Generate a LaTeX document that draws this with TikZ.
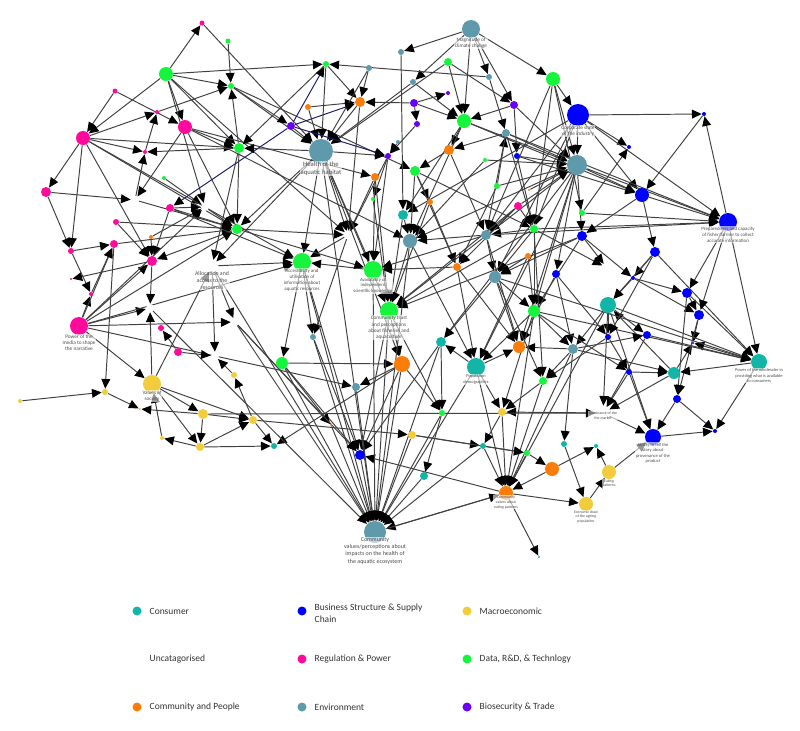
\documentclass[tikz,border=0pt]{standalone}
\usepackage{fontspec}
\setmainfont{Carlito}
\usetikzlibrary{positioning,arrows.meta}
\definecolor{CatConsumer}{HTML}{13B5A7}
\definecolor{CatBusiness}{HTML}{0000FF}
\definecolor{CatMacro}{HTML}{F3CC3C}
\definecolor{CatRegulation}{HTML}{FF0A9C}
\definecolor{CatData}{HTML}{14F53C}
\definecolor{CatCommunity}{HTML}{FA7D0A}
\definecolor{CatEnvironment}{HTML}{5E9AAB}
\definecolor{CatBio}{HTML}{6A00F5}
\definecolor{NavyLine}{HTML}{1B1B6B}
\pgfdeclarelayer{links}
\pgfsetlayers{links,main}

\begin{document}
\begin{tikzpicture}[x=0.2mm,y=-0.2mm,
    nd/.style={circle,inner sep=0pt,minimum size=#1*0.4mm},
    cons/.style={nd=#1,fill=CatConsumer},
    bus/.style={nd=#1,fill=CatBusiness},
    mac/.style={nd=#1,fill=CatMacro},
    reg/.style={nd=#1,fill=CatRegulation},
    dat/.style={nd=#1,fill=CatData},
    com/.style={nd=#1,fill=CatCommunity},
    env/.style={nd=#1,fill=CatEnvironment},
    bio/.style={nd=#1,fill=CatBio},
    unc/.style={nd=#1,fill=white},
    lbl/.style={font=\fontsize{#1}{\fpeval{#1*1.2}}\selectfont,text=black!70,align=center,
      fill=white,fill opacity=0.6,text opacity=1,inner sep=0.4pt},
    link/.style={draw=black!75,line width=0.55pt,-{Triangle[length=5.5pt,width=5pt,black]}},
    navy/.style={link,draw=NavyLine},
    legtxt/.style={font=\fontsize{5.4}{6.6}\selectfont,text=black!80,align=left,inner sep=0pt},
  ]
  \useasboundingbox (0,0) rectangle (800,731);

  % environment
  \node[env=9,label={[lbl=3,label distance=-1pt]below:{Magnitude of\\climate change}}] (eClim) at (471,29) {};
  \node[env=3] (eA) at (401,52) {};
  \node[env=3] (eB) at (369,68) {};
  \node[env=3] (eC) at (413,82) {};
  \node[env=3] (eD) at (489,77) {};
  \node[env=4] (eE) at (506,133) {};
  \node[env=12,label={[lbl=3.8,label distance=-1.5pt]below:{Health of the\\aquatic habitat}}] (eHealth) at (321,151) {};
  \node[env=2] (eF) at (398,142) {};
  \node[env=10] (eG) at (577,165) {};
  \node[env=5] (eI) at (486,235) {};
  \node[env=7] (eH) at (410,241) {};
  \node[env=6] (eJ) at (495,277) {};
  \node[env=3] (eK) at (313,337) {};
  \node[env=5] (eL) at (573,349) {};
  \node[env=4] (eM) at (356,387) {};
  \node[env=11,label={[lbl=3.4,label distance=-4pt]below:{Community\\values/perceptions about\\impacts on the health of\\the aquatic ecosystem}}] (eComm) at (375,532) {};

  % data, R&D and technology
  \node[dat=2.5] (dA) at (228,41) {};
  \node[dat=7] (dB) at (166,74) {};
  \node[dat=3] (dC) at (231,86) {};
  \node[dat=3] (dD) at (326,64) {};
  \node[dat=4] (dE) at (448,62) {};
  \node[dat=7] (dF) at (553,79) {};
  \node[dat=7] (dH) at (464,121) {};
  \node[dat=5] (dG) at (239,148) {};
  \node[dat=2] (dJ) at (485,160) {};
  \node[dat=5] (dK) at (415,171) {};
  \node[dat=2] (dI) at (164,178) {};
  \node[dat=3] (dL) at (497,186) {};
  \node[dat=2] (dM) at (373,199) {};
  \node[dat=3] (dP) at (582,213) {};
  \node[dat=5] (dN) at (237,229) {};
  \node[dat=4] (dO) at (534,229) {};
  \node[dat=9,label={[lbl=2.8,label distance=-2pt]below:{Accessibility and\\utilisation of\\information about\\aquatic resources}}] (dAcc) at (302,262) {};
  \node[dat=9,label={[lbl=2.7,label distance=-1.5pt]below:{Availability of\\independent\\scientific knowledge}}] (dAvail) at (373,270) {};
  \node[dat=9,label={[lbl=3,label distance=-3pt]below:{Community trust\\and perceptions\\about fisheries and\\aquaculture}}] (dComm) at (389,311) {};
  \node[dat=6] (dQ) at (534,311) {};
  \node[dat=6] (dR) at (282,363) {};
  \node[dat=4] (dS) at (543,381) {};
  \node[dat=3] (dT) at (442,413) {};
  \node[dat=3] (dU) at (527,453) {};

  % regulation and power
  \node[reg=2.5] (rA) at (202,23) {};
  \node[reg=2.5] (rB) at (115,91) {};
  \node[reg=2] (rC) at (157,112) {};
  \node[reg=7] (rD) at (185,127) {};
  \node[reg=7] (rE) at (83,138) {};
  \node[reg=2] (rF) at (145,152) {};
  \node[reg=5] (rG) at (46,192) {};
  \node[reg=4] (rH) at (170,208) {};
  \node[reg=4] (rQ) at (518,206) {};
  \node[reg=3] (rI) at (116,222) {};
  \node[reg=4] (rJ) at (114,244) {};
  \node[reg=3] (rK) at (71,251) {};
  \node[reg=5] (rL) at (152,261) {};
  \node[reg=1.2] (rM) at (71,279) {};
  \node[reg=2] (rN) at (91,294) {};
  \node[reg=9,label={[lbl=3,label distance=-1pt]below:{Power of the\\media to shape\\the narrative}}] (rMedia) at (79,326) {};
  \node[reg=3] (rO) at (161,328) {};
  \node[reg=4] (rP) at (178,352) {};

  % community and people
  \node[com=5] (pA) at (360,102) {};
  \node[com=3] (pB) at (308,107) {};
  \node[com=5] (pC) at (449,150) {};
  \node[com=4] (pD) at (375,177) {};
  \node[com=1.2] (pE) at (529,190) {};
  \node[com=3] (pG) at (430,202) {};
  \node[com=2] (pF) at (151,237) {};
  \node[com=3] (pI) at (528,256) {};
  \node[com=4] (pH) at (457,267) {};
  \node[com=6] (pJ) at (519,347) {};
  \node[com=8] (pK) at (402,364) {};
  \node[com=1.2] (pL) at (331,425) {};
  \node[com=7] (pM) at (552,469) {};
  \node[com=7,label={[lbl=2.2,label distance=-3pt]below:{Community\\values about\\eating patterns}}] (pEat) at (506,493) {};

  % biosecurity and trade
  \node[bio=2] (sA) at (448,93) {};
  \node[bio=4] (sB) at (414,103) {};
  \node[bio=4] (sC) at (514,105) {};
  \node[bio=3] (sD) at (417,124) {};
  \node[bio=4] (sE) at (291,126) {};
  \node[bio=3] (sF) at (388,156) {};

  % business structure and supply chain
  \node[bus=11,label={[lbl=3,label distance=-1pt]below:{Corporate state\\of the industry}}] (bCorp) at (578,115) {};
  \node[bus=2] (bA) at (704,114) {};
  \node[bus=2] (bB) at (629,147) {};
  \node[bus=3] (bC) at (517,156) {};
  \node[bus=7] (bD) at (642,195) {};
  \node[bus=9,label={[lbl=2.8,label distance=-3pt]below:{Preparedness and capacity\\of fisher/farmer to collect\\accurate information}}] (bWill) at (728,222) {};
  \node[bus=5] (bE) at (582,236) {};
  \node[bus=5] (bF) at (655,252) {};
  \node[bus=4] (bG) at (556,274) {};
  \node[bus=2] (bH) at (633,278) {};
  \node[bus=5] (bI) at (687,293) {};
  \node[bus=5] (bJ) at (699,315) {};
  \node[bus=4] (bL) at (647,335) {};
  \node[bus=3] (bK) at (608,337) {};
  \node[bus=1.2] (bM) at (693,343) {};
  \node[bus=3] (bN) at (629,372) {};
  \node[bus=4] (bO) at (677,399) {};
  \node[bus=2] (bP) at (715,431) {};
  \node[bus=8,label={[lbl=2.6,label distance=-2pt]below:{Ability to tell the\\story about\\provenance of the\\product}}] (bProv) at (653,437) {};
  \node[bus=5] (bQ) at (360,455) {};

  % consumer
  \node[cons=5] (cA) at (403,215) {};
  \node[cons=8] (cB) at (608,305) {};
  \node[cons=5] (cC) at (441,342) {};
  \node[cons=9,label={[lbl=2.5,label distance=-1.5pt]below:{Population\\demographics}}] (cPop) at (476,367) {};
  \node[cons=8,label={[lbl=2.5,label distance=-1.5pt]below:{Power of the wholesaler in\\providing what is available\\to consumers}}] (cWhole) at (759,362) {};
  \node[cons=6] (cD) at (674,373) {};
  \node[cons=3] (cE) at (274,446) {};
  \node[cons=3] (cG) at (564,444) {};
  \node[cons=2] (cH) at (596,446) {};
  \node[cons=3] (cF) at (483,446) {};
  \node[cons=4] (cI) at (424,476) {};
  \node[cons=1.2] (cJ) at (539,557) {};

  % macroeconomic
  \node[mac=2] (mA) at (20,401) {};
  \node[mac=3] (mB) at (105,392) {};
  \node[mac=9,label={[lbl=2.9,label distance=-2pt]below:{Values of\\society}}] (mVal) at (152,384) {};
  \node[mac=1.2] (mC) at (140,409) {};
  \node[mac=3] (mH) at (234,375) {};
  \node[mac=5] (mD) at (203,414) {};
  \node[mac=4] (mG) at (253,420) {};
  \node[mac=2] (mE) at (162,438) {};
  \node[mac=4] (mF) at (200,447) {};
  \node[mac=4] (mI) at (412,435) {};
  \node[mac=4] (mJ) at (502,412) {};
  \node[mac=7,label={[lbl=2.2,label distance=-0.5pt]below:{Eating\\patterns}}] (mEatP) at (609,472) {};
  \node[mac=7,label={[lbl=2.2,label distance=-1pt]below:{Economic draw\\of the ageing\\population}}] (mAge) at (586,504) {};

  % uncatagorised
  \node[unc=4] (uA) at (135,200) {};
  \node[unc=4] (uB) at (205,207) {};
  \node[unc=4] (uC) at (348,235) {};
  \node[unc=6,label={[lbl=3.3,label distance=-1pt]below:{Allocation and\\access to the\\resources}}] (uAlloc) at (212,266) {};
  \node[unc=4] (uD) at (150,308) {};
  \node[unc=4] (uE) at (235,322) {};
  \node[unc=4] (uF) at (215,356) {};
  \node[unc=5] (uG) at (607,268) {};
  \node[unc=7,label={[lbl=2.2,label distance=-5.5pt]below:{Dominance of the\\the market}}] (uDom) at (603,413) {};

  \begin{pgfonlayer}{links}
    % top left cluster
    \foreach \a/\b in {dB/rA, rA/eHealth, dA/dC, dB/dC, dB/rE, dB/dD, dB/rD, dB/uB, rB/rD, rB/rE,
        rE/rC, rC/dC, rF/rC, rE/rF, rE/dG, rD/dG, dG/rF, rE/rG, uA/rF, dG/dC, dI/uB, rE/rK,
        rG/rK, rD/dN, rE/rL, dC/eHealth, dC/sE, rD/uA, rG/uA, dB/dG, dB/uC, rD/pD, dC/dK,
        dG/uAlloc, rD/eH, rE/dAcc}
      \draw[link] (\a) -- (\b);
    % top centre
    \foreach \a/\b in {eClim/eA, eClim/eC, eClim/eD, eClim/dF, eClim/dH, eClim/sC, eD/dD,
        sE/eHealth, pB/eHealth, dD/pA, eB/pA, sB/pA, dD/eHealth, pA/eHealth, pA/uC, sB/sD,
        sB/sA, sB/dH, eC/dH, dE/dH, sC/dH, dH/pC, eE/pC, dL/eE, dE/eHealth, eC/eHealth,
        eA/cA, eF/sF, sD/sF, pC/dK, dK/pG, pG/pH, dK/pH, pD/uC, sF/uC, sF/dM, dE/sC, eD/eE,
        pB/pA, eB/eHealth, dD/dG, eHealth/pK, eHealth/dComm, sF/dAvail, pD/dComm, dK/dO,
        pC/eI, dH/eH, dH/cA, eE/eI, eE/dO, sC/bC, dJ/eH, dL/pH}
      \draw[link] (\a) -- (\b);
    \foreach \a/\b in {sE/dD, sE/pA, sE/sF, sE/rH}
      \draw[navy] (\a) -- (\b);
    % right side
    \foreach \a/\b in {bCorp/bA, bCorp/bB, bA/bD, bWill/bA, bCorp/eG, bCorp/bD, eG/bD,
        bCorp/bWill, eG/bWill, bD/bWill, dP/bB, dF/bCorp, dF/eG, dF/dO, eE/eG, dH/eG, sC/eG,
        bC/eG, dJ/eG, dL/eG, bD/bF, bF/cWhole, bWill/cWhole, bH/bI, bE/bH, bF/bH, bI/bJ,
        bH/bJ, bJ/bM, cWhole/bM, cD/bM, cWhole/bP, bO/bP, bProv/bP, bJ/bO, bI/bO, bO/bProv,
        uDom/bProv, cB/bProv, mEatP/bProv, bE/uG, dO/uG, bH/cB, bF/cB, cD/cB, cB/cWhole,
        bI/cWhole, bL/cWhole, eJ/cWhole, dQ/cWhole, cB/bL, eL/bL, bG/eL, cB/eL, dQ/eL, bE/dQ,
        dO/dQ, bN/cD, eL/cD, cB/bK, bG/bK, cB/uDom, bN/uDom, bL/uDom, cD/uDom, eL/cG,
        mEatP/cH, pM/cH, dU/pM, mAge/mEatP, cG/mAge, pEat/mAge, pEat/cJ, eI/eJ, pI/eJ, dO/eJ,
        dO/eI, dO/bWill, eI/bWill, eG/eH, eG/pJ, eG/cPop, eG/dComm, bE/dComm, dO/dComm,
        bCorp/eI, bCorp/dO, bCorp/cA, dP/bWill, eG/bE, eG/bG, bD/bE, bF/bK, bWill/bI,
        bWill/bJ, cWhole/cD, dQ/bN, bK/bN, bN/bProv, rQ/eG, rQ/dO, pE/eG, bC/bD, dF/dP,
        eE/bWill, dH/bD, bC/dO, rQ/eI, rQ/pH, dF/eI, bCorp/eJ, eG/dQ, eG/cC, bE/eJ, bG/pJ}
      \draw[link] (\a) -- (\b);
    % centre
    \foreach \a/\b in {cA/eH, eI/eH, eI/dAvail, eH/dComm, pG/dComm, cA/dComm, dComm/pK,
        dComm/dT, dR/pK, pK/eM, dAcc/eK, dAcc/dR, dAvail/dAcc, uAlloc/dAcc, eHealth/dAcc,
        eHealth/uC, eHealth/dAvail, eHealth/sF, eHealth/dN, eHealth/uAlloc, eHealth/dG,
        uC/dAcc, uC/eK, pH/dAvail, dM/dComm, pD/dAvail, dR/bQ, eK/bQ, pK/bQ, dAcc/bQ,
        dComm/bQ, cC/bQ, pEat/bQ, cPop/cC, cPop/pJ, eL/pJ, eJ/pJ, eL/dS, bK/dS, cPop/mJ,
        dS/mJ, uDom/mJ, mJ/pEat, cPop/pEat, dU/pEat, pM/pEat, cF/pEat, dS/pEat, dQ/pEat,
        eL/pEat, cB/pEat, mJ/cF, mI/cF, cF/dU, mI/dU, dT/cI, pK/dT, cC/dT, pK/cE, eH/cPop,
        pH/cPop, pI/dQ, eJ/dS, eJ/dQ, dQ/mJ, pH/pJ, rQ/dComm, dK/eH, uE/pL, dR/pL, dO/dS,
        eI/pJ, pI/cPop, eJ/cC, dQ/cPop}
      \draw[link] (\a) -- (\b);
    % into the community values/perceptions node
    \foreach \a in {eHealth, dAcc, uAlloc, dR, eK, eM, pK, dComm, cC, dAvail, eH, cPop, cI,
        bQ, pL, uE, dT, cF, mI, uD, pEat}
      \draw[link] (\a) -- (eComm);
    \draw[link] (eComm) -- (pEat);
    % left side
    \foreach \a/\b in {uB/dN, rH/uB, rH/dN, rJ/dN, rI/dN, rE/dN, dG/dN, rH/rL, rI/rL, pF/rL,
        dN/rL, rK/rJ, rN/rJ, rL/rM, rMedia/rN, rK/rN, rMedia/rJ, rMedia/rL, rMedia/dN,
        rMedia/uE, rMedia/uD, rMedia/mVal, rMedia/uB, rMedia/eM, rJ/mB, rL/uD, mVal/uD,
        mVal/uAlloc, rP/rO, rP/uF, mH/uF, uAlloc/uF, uAlloc/uE, mA/mB, mB/mC, mVal/mD,
        mVal/mF, mVal/mG, mE/mVal, mD/mC, mD/mF, mF/mE, mF/mG, mD/mG, mF/cE, mG/cE, mG/mH,
        mG/mI, mD/uDom, pF/uB, uA/dN, dN/uC, uE/bQ, rMedia/dAcc, rH/dAcc, dN/dAvail}
      \draw[link] (\a) -- (\b);
  \end{pgfonlayer}

  % legend
  \node[cons=4.5] (legCons) at (137,611) {};
  \node[legtxt,right=1.5mm of legCons] (legConsT) {Consumer};
  \node[bus=4.5] (legBus) at (302,611) {};
  \node[legtxt,right=1.5mm of legBus,yshift=-0.5mm] (legBusT) {Business Structure \& Supply\\Chain};
  \node[mac=4.5] (legMac) at (467,611) {};
  \node[legtxt,right=1.5mm of legMac] (legMacT) {Macroeconomic};
  \node[unc=4.5] (legUnc) at (137,659) {};
  \node[legtxt,right=1.5mm of legUnc] (legUncT) {Uncatagorised};
  \node[reg=4.5] (legReg) at (302,659) {};
  \node[legtxt,right=1.5mm of legReg] (legRegT) {Regulation \& Power};
  \node[dat=4.5] (legDat) at (467,659) {};
  \node[legtxt,right=1.5mm of legDat] (legDatT) {Data, R\&D, \& Technlogy};
  \node[com=4.5] (legCom) at (137,707) {};
  \node[legtxt,right=1.5mm of legCom] (legComT) {Community and People};
  \node[env=4.5] (legEnv) at (302,707) {};
  \node[legtxt,right=1.5mm of legEnv] (legEnvT) {Environment};
  \node[bio=4.5] (legBio) at (467,707) {};
  \node[legtxt,right=1.5mm of legBio] (legBioT) {Biosecurity \& Trade};
\end{tikzpicture}
\end{document}
